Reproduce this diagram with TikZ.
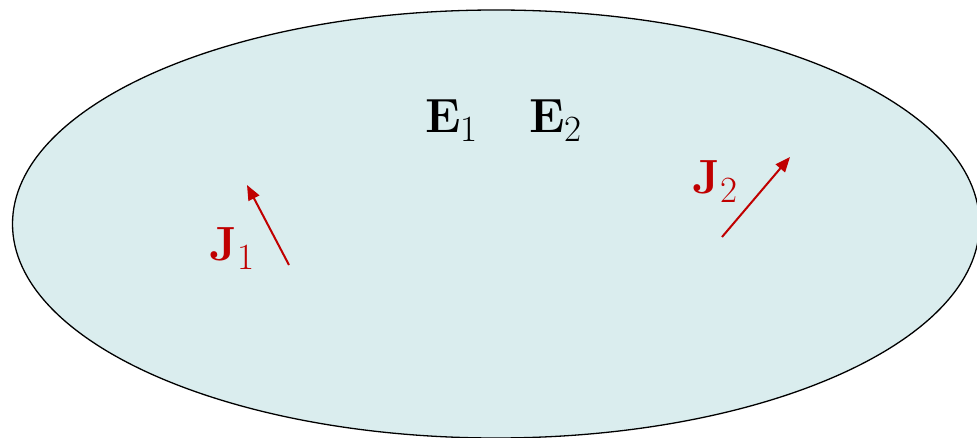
\documentclass[tikz,border=0pt]{standalone}
\usetikzlibrary{arrows.meta,shapes.geometric}
\definecolor{fillc}{RGB}{218,237,238}
\definecolor{jred}{RGB}{192,0,0}
\newcommand{\vsym}[2]{{\fontsize{48}{52}\selectfont\bfseries #1}\raisebox{-9pt}{\fontsize{37}{40}\selectfont #2}}
\begin{document}
\begin{tikzpicture}[x=1pt,y=-1pt,
  lbl/.style={inner sep=0pt,anchor=base west},
  jarrow/.style={draw=jred,line width=2pt,-{Triangle[length=15pt,width=12pt]}}]
\useasboundingbox (0,0) rectangle (977,438);
\node[draw=black,line width=1.3pt,fill=fillc,ellipse,minimum width=967pt,minimum height=428pt,inner sep=0pt] (region) at (496,224) {};
\node[lbl] (e1) at (425,133) {\vsym{E}{1}};
\node[lbl] (e2) at (529,133) {\vsym{E}{2}};
\node[lbl,text=jred] (j1) at (209,261) {\vsym{J}{1}};
\node[lbl,text=jred] (j2) at (692,194) {\vsym{J}{2}};
\coordinate (a1s) at (289,265);
\coordinate (a1e) at (247,185);
\coordinate (a2s) at (722,237);
\coordinate (a2e) at (790,157);
\draw[jarrow] (a1s) -- (a1e);
\draw[jarrow] (a2s) -- (a2e);
\end{tikzpicture}
\end{document}
